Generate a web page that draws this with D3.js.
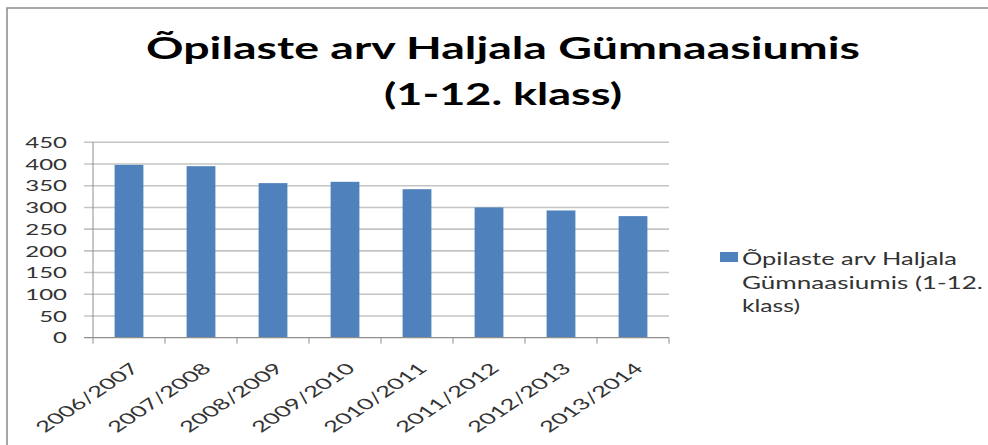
<!DOCTYPE html>
<html>
<head>
<meta charset="utf-8">
<script src="https://cdn.jsdelivr.net/npm/d3@7"></script>
<style>
  html, body { margin: 0; padding: 0; background: #fff; }
  svg { display: block; }
  text { font-family: Lato, "Open Sans", sans-serif; }
</style>
</head>
<body>
<svg id="chart" width="988" height="445"></svg>
<script>
const categories = ["2006/2007", "2007/2008", "2008/2009", "2009/2010", "2010/2011", "2011/2012", "2012/2013", "2013/2014"];
const values = [398, 395, 356, 359, 342, 300, 293, 280];
const yTicks = [0, 50, 100, 150, 200, 250, 300, 350, 400, 450];
const titleLines = ["Õpilaste arv Haljala Gümnaasiumis", "(1-12. klass)"];
const legendLines = ["Õpilaste arv Haljala", "Gümnaasiumis (1-12.", "klass)"];

const svg = d3.select("#chart");
const W = 988, H = 445;
const plot = { left: 93, right: 669, top: 142.3, bottom: 337.7 };

svg.append("rect").attr("width", W).attr("height", H).attr("fill", "#fff");

// outer border (top and left visible)
svg.append("path")
  .attr("d", `M7,${H} L7,8 L${W},8`)
  .attr("fill", "none").attr("stroke", "#8a8a8a").attr("stroke-width", 1.5);

const x = d3.scaleBand().domain(categories)
  .range([plot.left, plot.right]).paddingInner(0.6).paddingOuter(0.3);
const xb = d3.scaleLinear().domain([0, categories.length]).range([plot.left, plot.right]);
const y = d3.scaleLinear().domain([0, 450]).range([plot.bottom, plot.top]);

// gridlines
svg.append("g").selectAll("line").data(yTicks.filter(d => d > 0)).join("line")
  .attr("x1", 84).attr("x2", plot.right)
  .attr("y1", d => y(d)).attr("y2", d => y(d))
  .attr("stroke", "#c4c4c4").attr("stroke-width", 1.6);

// bars
svg.append("g").selectAll("rect").data(values).join("rect")
  .attr("x", (d, i) => x(categories[i]))
  .attr("width", x.bandwidth())
  .attr("y", d => y(d))
  .attr("height", d => y(0) - y(d))
  .attr("fill", "#4F81BD");

// axes lines
svg.append("line").attr("x1", plot.left).attr("x2", plot.left)
  .attr("y1", plot.top).attr("y2", plot.bottom)
  .attr("stroke", "#8e8e8e").attr("stroke-width", 1);
svg.append("line").attr("x1", 84).attr("x2", plot.right)
  .attr("y1", plot.bottom).attr("y2", plot.bottom)
  .attr("stroke", "#8e8e8e").attr("stroke-width", 1.2);
svg.append("g").selectAll("line").data(d3.range(categories.length + 1)).join("line")
  .attr("x1", d => xb(d)).attr("x2", d => xb(d))
  .attr("y1", plot.bottom).attr("y2", plot.bottom + 6)
  .attr("stroke", "#8e8e8e").attr("stroke-width", 1);

// y labels
svg.append("g").selectAll("text").data(yTicks).join("text")
  .attr("transform", d => `translate(67,${y(d)}) scale(1.52,1)`)
  .attr("text-anchor", "end").attr("dy", "0.36em")
  .attr("font-size", 15.8).attr("fill", "#333")
  .text(d => d);

// x labels (rotated -45 then stretched horizontally, like the reference)
svg.append("g").selectAll("text").data(categories).join("text")
  .attr("transform", d => `translate(${x(d) + x.bandwidth() / 2 + 11.4},369.6) scale(1.5,1) rotate(-45)`)
  .attr("text-anchor", "end")
  .attr("font-size", 15).attr("fill", "#333")
  .attr("textLength", 90).attr("lengthAdjust", "spacingAndGlyphs")
  .text(d => d);

// title
const titleWidths = [714, 238];
const titleBase = [59, 105];
svg.append("g").selectAll("text").data(titleLines).join("text")
  .attr("x", 503).attr("y", (d, i) => titleBase[i])
  .attr("text-anchor", "middle")
  .attr("font-size", 31).attr("font-weight", "bold").attr("fill", "#000")
  .attr("textLength", (d, i) => titleWidths[i]).attr("lengthAdjust", "spacingAndGlyphs")
  .text(d => d);

// legend
svg.append("rect").attr("x", 720).attr("y", 252).attr("width", 18).attr("height", 10)
  .attr("fill", "#4F81BD");
const legendWidths = [215, 241, 58];
svg.append("g").selectAll("text").data(legendLines).join("text")
  .attr("x", 742).attr("y", (d, i) => 265 + i * 23.5)
  .attr("font-size", 17).attr("fill", "#333")
  .attr("textLength", (d, i) => legendWidths[i]).attr("lengthAdjust", "spacingAndGlyphs")
  .text(d => d);
</script>
</body>
</html>
